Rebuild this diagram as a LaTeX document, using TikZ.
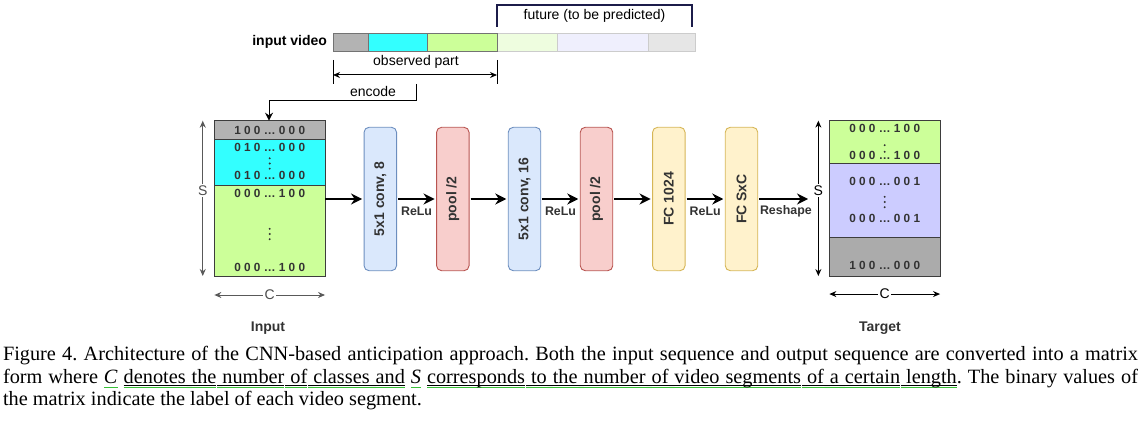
\documentclass[tikz,border=0pt]{standalone}
\usepackage{fontspec}
\setmainfont{Liberation Serif}
\setsansfont{Liberation Sans}
\usetikzlibrary{arrows.meta}
\definecolor{vgray}{HTML}{B3B3B3}
\definecolor{vcyan}{HTML}{33FFFF}
\definecolor{vgreen}{HTML}{CCFF99}
\definecolor{vlgreen}{HTML}{EEFDDF}
\definecolor{vlblue}{HTML}{EFEFFD}
\definecolor{vlgray}{HTML}{E6E6E6}
\definecolor{tlav}{HTML}{CCCCFF}
\definecolor{tgray}{HTML}{ABABAB}
\definecolor{bfill}{HTML}{DAE8FC}\definecolor{bdraw}{HTML}{6C8EBF}
\definecolor{rfill}{HTML}{F8CECC}\definecolor{rdraw}{HTML}{B85450}
\definecolor{yfill}{HTML}{FFF2CC}\definecolor{ydraw}{HTML}{D6B656}
\definecolor{txt}{HTML}{333333}
\definecolor{navy}{HTML}{1C1C4A}
\definecolor{ulgreen}{HTML}{38C238}
\definecolor{mline}{HTML}{3D3D3D}
\newsavebox\ulbox
% green-only underline of one word
\newcommand\gul[1]{\sbox\ulbox{#1}\rlap{\textcolor{ulgreen}{\rule[-5pt]{\wd\ulbox}{1.5pt}}}\usebox\ulbox}
% black + green underline of one word
\newcommand\bw[1]{\sbox\ulbox{#1}\rlap{\rule[-3pt]{\wd\ulbox}{0.7pt}}\rlap{\textcolor{ulgreen}{\rule[-5pt]{\wd\ulbox}{1.5pt}}}\usebox\ulbox}
% underlined stretchable space
\newcommand\us{\leaders\hbox to 0.5pt{\rlap{\vrule width 0.5pt height -2.3pt depth 3pt}\textcolor{ulgreen}{\vrule width 0.5pt height -3.5pt depth 5pt}}\hskip\fontdimen2\font plus \fontdimen3\font minus \fontdimen4\font}
\def\bgul#1{\bgulA#1 \ulstop}
\def\bgulA#1 #2\ulstop{\bw{#1}\if\relax\detokenize{#2}\relax\else\us\bgulA#2\ulstop\fi}
\begin{document}
\begin{tikzpicture}[x=1pt,y=-1pt,
  every node/.style={font=\sffamily\fontsize{14}{16}\selectfont, inner sep=0pt, outer sep=0pt},
  vseg/.style={rectangle, draw=#1, line width=0.8pt, minimum height=18pt},
  mblk/.style={rectangle, draw=mline, line width=0.9pt, minimum width=110.7pt},
  mrow/.style={font=\sffamily\bfseries\fontsize{11.8}{13}\selectfont, text=txt},
  layer/.style={rectangle, rounded corners=5pt, line width=0.9pt, minimum width=32.5pt, minimum height=143.4pt},
  ltext/.style={rotate=90, font=\sffamily\bfseries\fontsize{14}{16}\selectfont, text=txt},
  lbl/.style={font=\sffamily\bfseries\fontsize{12.4}{14}\selectfont, text=txt, yshift=-12.7pt},
  bold/.style={font=\sffamily\bfseries\fontsize{14}{16}\selectfont, text=txt},
  arr/.style={-{Stealth[length=11pt,width=11pt]}, line width=2.6pt, shorten <=1.5pt, shorten >=2pt},
  thin/.style={line width=1pt},
  thinarr/.style={{Stealth[length=7pt,width=6pt]}-{Stealth[length=7pt,width=6pt]}, line width=1pt},
  dotcol/.pic={\fill[txt] (0,-5.2) circle (1.05pt) (0,0) circle (1.05pt) (0,5.2) circle (1.05pt);},
  dotpair/.pic={\fill[txt] (0,-3.3) circle (1.05pt) (0,3.3) circle (1.05pt);}
]
\useasboundingbox (0,0) rectangle (1147,422);

% ---- input video bar ----
\node[vseg=vlgray!75!gray, fill=vlgreen, minimum width=60pt] (v4) at (527,42) {};
\node[vseg=vlgray!75!gray, fill=vlblue, minimum width=91pt] (v5) at (602.5,42) {};
\node[vseg=vlgray!75!gray, fill=vlgray, minimum width=47pt] (v6) at (671.5,42) {};
\node[vseg=gray!90!black, fill=vgray, minimum width=35pt] (v1) at (350.5,42) {};
\node[vseg=gray!90!black, fill=vcyan, minimum width=59pt] (v2) at (397.5,42) {};
\node[vseg=gray!90!black, fill=vgreen, minimum width=70pt] (v3) at (462,42) {};
\node[bold, text=black, anchor=east] (iv) at ([xshift=-6pt]v1.west) {input video};

% future bracket
\coordinate (fl) at (497,27);
\coordinate (fr) at (692,27);
\draw[navy, line width=1.4pt] (fl) -- (497,5) -- (692,5) -- (fr);
\node (fut) at (594.5,16) {future (to be predicted)};

% observed part
\coordinate (ol) at (333,60);
\coordinate (or) at (497,60);
\draw[thin] (ol) -- (333,84);
\draw[thin] (or) -- (497,84);
\draw[thinarr] (333,75) -- (497,75);
\node (obs) at (416,61.7) {observed part};

% ---- input matrix ----
\node[mblk, fill=vgray, minimum height=18.6pt] (in1) at (269.7,130) {};
\node[mblk, fill=vcyan, minimum height=45.7pt] (in2) at (269.7,162.2) {};
\node[mblk, fill=vgreen, minimum height=91pt] (in3) at (269.7,230.5) {};
\node[mrow] at (269.7,130) {1 0 0 … 0 0 0};
\node[mrow] at (269.7,147) {0 1 0 … 0 0 0};
\pic at (269.7,163.5) {dotcol};
\node[mrow] at (269.7,175.5) {0 1 0 … 0 0 0};
\node[mrow] at (269.7,193) {0 0 0 … 1 0 0};
\pic at (269.7,234) {dotcol};
\node[mrow] at (269.7,267) {0 0 0 … 1 0 0};

% encode connector
\coordinate (enc) at (416,84);
\draw[thin, -{Stealth[length=8pt,width=8pt]}] (enc) -- (416,101) -- (269,101) -- (in1.north -| 269,0);
\node (encl) at (373,91.7) {encode};

% S and C dimension lines (input)
\draw[thinarr, draw=gray!70!black] ([xshift=-11.6pt]in1.north west) -- ([xshift=-11.6pt]in3.south west)
  node[pos=0.45, fill=white, inner sep=1.5pt, text=gray!60!black, font=\sffamily\fontsize{14}{16}\selectfont] {S};
\draw[thinarr, draw=gray!70!black] ([yshift=-19pt]in3.south west) -- ([yshift=-19pt]in3.south east)
  node[midway, fill=white, inner sep=1.5pt, text=gray!60!black, font=\sffamily\fontsize{14}{16}\selectfont] {C};
\node[bold] (inl) at (268,328) {Input};

% ---- layers ----
\node[layer, fill=bfill, draw=bdraw] (b1) at (380.3,199) {};
\node[layer, fill=rfill, draw=rdraw] (b2) at (452.8,199) {};
\node[layer, fill=bfill, draw=bdraw] (b3) at (524.5,199) {};
\node[layer, fill=rfill, draw=rdraw] (b4) at (596.5,199) {};
\node[layer, fill=yfill, draw=ydraw] (b5) at (668.8,199) {};
\node[layer, fill=yfill, draw=ydraw] (b6) at (741.5,199) {};
\node[ltext] at (b1) {5x1 conv, 8};
\node[ltext] at (b2) {pool /2};
\node[ltext] at (b3) {5x1 conv, 16};
\node[ltext] at (b4) {pool /2};
\node[ltext] at (b5) {FC 1024};
\node[ltext] at (b6) {FC SxC};

\draw[arr, shorten <=0pt] (in3.east |- b1) -- (b1);
\draw[arr] (b1) -- (b2) node[midway, lbl] {ReLu};
\draw[arr] (b2) -- (b3);
\draw[arr] (b3) -- (b4) node[midway, lbl] {ReLu};
\draw[arr] (b4) -- (b5);
\draw[arr] (b5) -- (b6) node[midway, lbl] {ReLu};

% ---- target matrix ----
\node[mblk, fill=vgreen, minimum height=43.3pt] (t1) at (884.7,142.3) {};
\node[mblk, fill=tlav, minimum height=73.7pt] (t2) at (884.7,200.8) {};
\node[mblk, fill=tgray, minimum height=38.3pt] (t3) at (884.7,256.9) {};
\node[mrow] at (884.7,128.3) {0 0 0 … 1 0 0};
\pic at (884.7,148.5) {dotpair};
\node[mrow] at (884.7,155.7) {0 0 0 … 1 0 0};
\node[mrow] at (884.7,181) {0 0 0 … 0 0 1};
\pic at (884.7,202) {dotcol};
\node[mrow] at (884.7,218.3) {0 0 0 … 0 0 1};
\node[mrow] at (884.7,265) {1 0 0 … 0 0 0};

\coordinate (rs) at (808,199);
\draw[arr, shorten >=0pt] (b6) -- (rs) node[midway, lbl, xshift=3pt] {Reshape};

\draw[thinarr] ([xshift=-11pt]t1.north west) -- ([xshift=-11pt]t3.south west)
  node[pos=0.45, fill=white, inner sep=1.5pt, font=\sffamily\fontsize{14}{16}\selectfont] {S};
\draw[thinarr] ([yshift=-18pt]t3.south west) -- ([yshift=-18pt]t3.south east)
  node[midway, fill=white, inner sep=1.5pt, font=\sffamily\fontsize{14}{16}\selectfont] {C};
\node[bold] (tgl) at (880,328) {Target};

% ---- caption ----
\node[anchor=base west, text width=1135pt, align=justify, font=\rmfamily\fontsize{20.3}{22.5}\selectfont\frenchspacing] (cap) at (3,360.5)
{Figure 4. Architecture of the CNN-based anticipation approach. Both the input sequence and output sequence are converted into a matrix\linebreak form where \gul{\textit{C}} \bgul{denotes the number of classes and} \gul{\textit{S}} \bgul{corresponds to the number of video segments of a certain length}. The binary values of\linebreak the matrix indicate the label of each video segment.};
\end{tikzpicture}
\end{document}
